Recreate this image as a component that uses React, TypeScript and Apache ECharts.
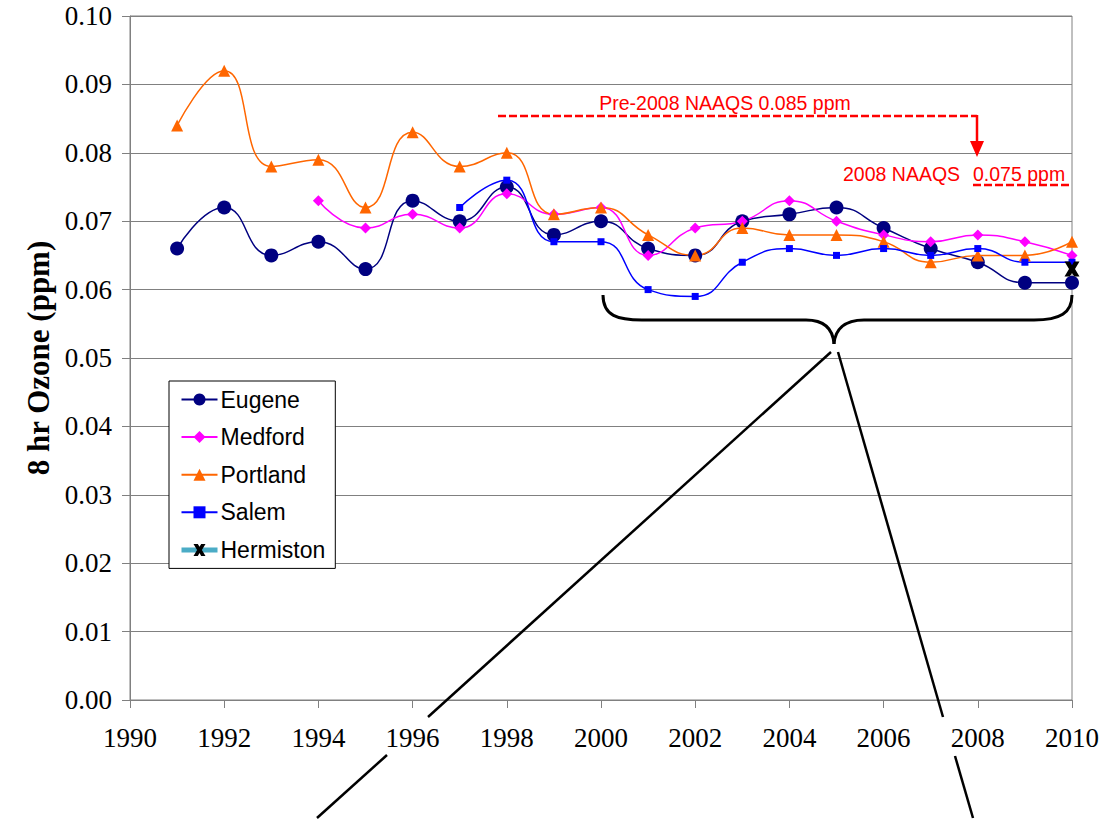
import React, { useEffect, useRef } from "react";
import * as echarts from "echarts";

const years = [1991, 1992, 1993, 1994, 1995, 1996, 1997, 1998, 1999, 2000, 2001, 2002, 2003, 2004, 2005, 2006, 2007, 2008, 2009, 2010];
const eugene = [0.066, 0.072, 0.065, 0.067, 0.063, 0.073, 0.070, 0.075, 0.068, 0.070, 0.066, 0.065, 0.070, 0.071, 0.072, 0.069, 0.066, 0.064, 0.061, 0.061];
const medford = [null, null, null, 0.073, 0.069, 0.071, 0.069, 0.074, 0.071, 0.072, 0.065, 0.069, 0.070, 0.073, 0.070, 0.068, 0.067, 0.068, 0.067, 0.065];
const portland = [0.084, 0.092, 0.078, 0.079, 0.072, 0.083, 0.078, 0.080, 0.071, 0.072, 0.068, 0.065, 0.069, 0.068, 0.068, 0.067, 0.064, 0.065, 0.065, 0.067];
const salem = [null, null, null, null, null, null, 0.072, 0.076, 0.067, 0.067, 0.060, 0.059, 0.064, 0.066, 0.065, 0.066, 0.065, 0.066, 0.064, 0.064];
const hermiston = [null, null, null, null, null, null, null, null, null, null, null, null, null, null, null, null, null, null, null, 0.063];

const yTicks = { min: 0, max: 0.1, interval: 0.01 };
const xTicks = { min: 1990, max: 2010, interval: 2 };

const preText = "Pre-2008 NAAQS 0.085 ppm";
const newText = "2008 NAAQS";
const newValue = "0.075 ppm";

const X_PATH = "path://M0,0 L3.6,0 L5,2.4 L6.4,0 L10,0 L7,5 L10,10 L6.4,10 L5,7.6 L3.6,10 L0,10 L3,5 Z";

function pairs(vals: (number | null)[]) {
  return years.map((y, i) => [y, vals[i]]).filter((p) => p[1] != null);
}

export default function App() {
  const ref = useRef<HTMLDivElement>(null);
  useEffect(() => {
    const chart = echarts.init(ref.current!, null, { renderer: "svg" });
    const serif = "'Liberation Serif', 'Times New Roman', serif";
    const sans = "'Liberation Sans', Arial, sans-serif";
    const red = "#FF0000";
    const blk = { stroke: "#000", lineWidth: 3, fill: "none" };
    const zl = { stroke: "#000", lineWidth: 2.5 };
    chart.setOption({
      animation: false,
      backgroundColor: "#fff",
      textStyle: { fontFamily: serif },
      grid: { left: 130, right: 40, top: 16, bottom: 120, show: true, borderColor: "#808080", borderWidth: 1 },
      xAxis: {
        type: "value",
        min: xTicks.min,
        max: xTicks.max,
        interval: xTicks.interval,
        splitLine: { show: false },
        axisLine: { lineStyle: { color: "#808080" } },
        axisTick: { show: true, inside: false, length: 8, lineStyle: { color: "#808080" } },
        axisLabel: { formatter: (v: number) => String(v), fontFamily: serif, fontSize: 27, color: "#000", margin: 24 },
      },
      yAxis: {
        type: "value",
        min: yTicks.min,
        max: yTicks.max,
        interval: yTicks.interval,
        name: "8 hr Ozone (ppm)",
        nameLocation: "middle",
        nameGap: 74,
        nameTextStyle: { fontFamily: serif, fontWeight: "bold", fontSize: 31, color: "#000" },
        axisLine: { show: true, lineStyle: { color: "#808080" } },
        axisTick: { show: true, length: 8, lineStyle: { color: "#808080" } },
        splitLine: { lineStyle: { color: "#808080", width: 1 } },
        axisLabel: { formatter: (v: number) => v.toFixed(2), fontFamily: serif, fontSize: 27, color: "#000", margin: 18 },
      },
      legend: {
        orient: "vertical",
        left: 169,
        top: 381,
        backgroundColor: "#fff",
        borderColor: "#000",
        borderWidth: 1,
        padding: [7, 10, 7, 10],
        itemGap: 14.6,
        itemWidth: 36,
        itemHeight: 15,
        z: 10,
        textStyle: { fontFamily: sans, fontSize: 23, color: "#000", padding: [0, 0, 0, -2] },
        data: [
          "Eugene",
          "Medford",
          "Portland",
          "Salem",
          { name: "Hermiston", lineStyle: { color: "#4BACC6", width: 5 } },
        ],
      },
      series: [
        {
          name: "Eugene", type: "line", smooth: 0.5, data: pairs(eugene),
          symbol: "circle", symbolSize: 14,
          itemStyle: { color: "#000080" }, lineStyle: { color: "#000080", width: 1.5 },
        },
        {
          name: "Medford", type: "line", smooth: 0.5, data: pairs(medford),
          symbol: "diamond", symbolSize: 11,
          itemStyle: { color: "#FF00FF" }, lineStyle: { color: "#FF00FF", width: 1.5 },
        },
        {
          name: "Portland", type: "line", smooth: 0.5, data: pairs(portland),
          symbol: "triangle", symbolSize: 12,
          itemStyle: { color: "#FF6600" }, lineStyle: { color: "#FF6600", width: 1.5 },
        },
        {
          name: "Salem", type: "line", smooth: 0.5, data: pairs(salem),
          symbol: "rect", symbolSize: 7,
          itemStyle: { color: "#0000FF" }, lineStyle: { color: "#0000FF", width: 1.5 },
        },
        {
          name: "Hermiston", type: "line", data: pairs(hermiston),
          symbol: X_PATH, symbolSize: 15,
          itemStyle: { color: "#000" }, lineStyle: { color: "#4BACC6", width: 5 },
        },
      ],
      graphic: [
        // brace
        { type: "bezierCurve", z: 20, shape: { x1: 603, y1: 295, cpx1: 603, cpy1: 316, cpx2: 618, cpy2: 320, x2: 642, y2: 320 }, style: blk },
        { type: "line", z: 20, shape: { x1: 642, y1: 320, x2: 806, y2: 320 }, style: blk },
        { type: "bezierCurve", z: 20, shape: { x1: 806, y1: 320, cpx1: 826, cpy1: 320, cpx2: 833, cpy2: 330, x2: 834, y2: 344 }, style: blk },
        { type: "bezierCurve", z: 20, shape: { x1: 834, y1: 344, cpx1: 835, cpy1: 330, cpx2: 844, cpy2: 320, x2: 864, y2: 320 }, style: blk },
        { type: "line", z: 20, shape: { x1: 864, y1: 320, x2: 1034, y2: 320 }, style: blk },
        { type: "bezierCurve", z: 20, shape: { x1: 1034, y1: 320, cpx1: 1060, cpy1: 320, cpx2: 1072, cpy2: 313, x2: 1072, y2: 295 }, style: blk },
        // zoom lines
        { type: "line", z: 20, shape: { x1: 831, y1: 352, x2: 428, y2: 717 }, style: zl },
        { type: "line", z: 20, shape: { x1: 387, y1: 755, x2: 317, y2: 818 }, style: zl },
        { type: "line", z: 20, shape: { x1: 838, y1: 352, x2: 943, y2: 717 }, style: zl },
        { type: "line", z: 20, shape: { x1: 955, y1: 756, x2: 973, y2: 818 }, style: zl },
        // NAAQS annotations
        { type: "line", z: 20, shape: { x1: 498, y1: 116, x2: 977, y2: 116 }, style: { stroke: red, lineWidth: 2.5, lineDash: [8, 3] } },
        { type: "line", z: 20, shape: { x1: 977, y1: 115, x2: 977, y2: 146 }, style: { stroke: red, lineWidth: 2.5 } },
        { type: "polygon", z: 20, shape: { points: [[970, 141], [984, 141], [977, 157]] }, style: { fill: red } },
        { type: "text", z: 20, x: 725, y: 103, style: { text: preText, fill: red, font: `19.5px ${sans}`, align: "center", verticalAlign: "middle" } },
        { type: "text", z: 20, x: 843, y: 174, style: { text: newText, fill: red, font: `19.5px ${sans}`, align: "left", verticalAlign: "middle" } },
        { type: "text", z: 20, x: 973, y: 174, style: { text: newValue, fill: red, font: `19.5px ${sans}`, align: "left", verticalAlign: "middle" } },
        { type: "line", z: 20, shape: { x1: 973, y1: 185, x2: 1072, y2: 185 }, style: { stroke: red, lineWidth: 2.5, lineDash: [8, 3] } },
      ],
    });
    return () => chart.dispose();
  }, []);
  return <div ref={ref} style={{ position: "absolute", left: 0, top: 0, width: 1112, height: 820 }} />;
}
